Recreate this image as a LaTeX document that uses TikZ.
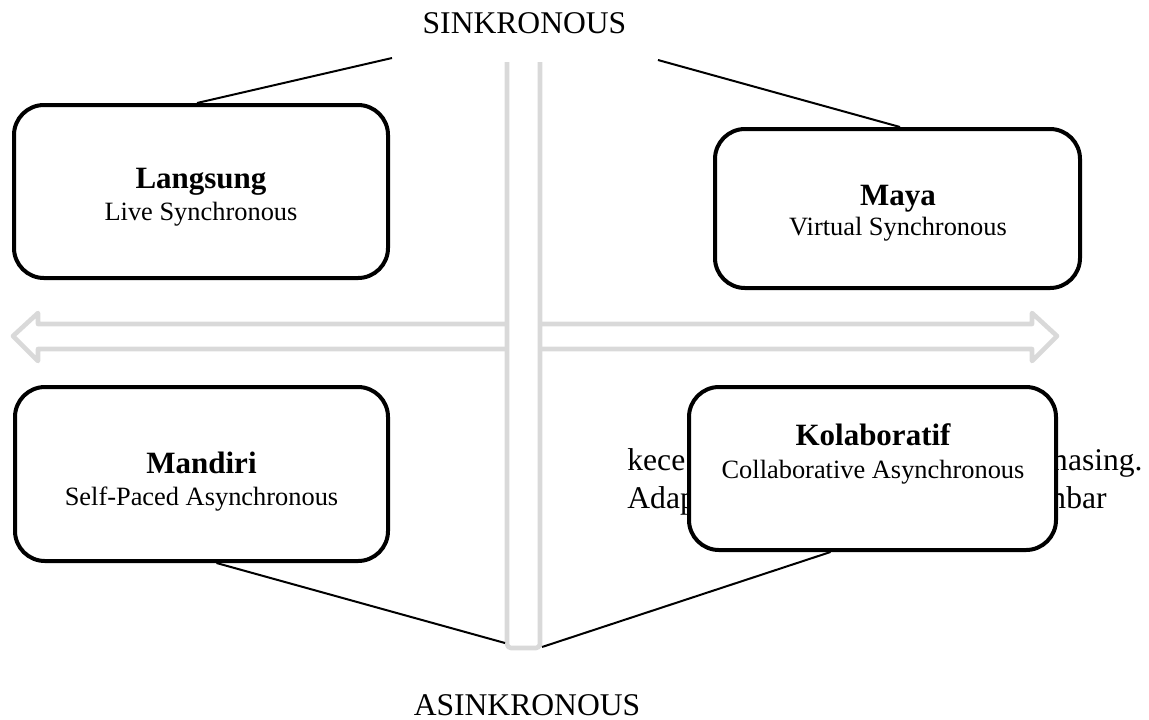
\documentclass[tikz,border=0pt]{standalone}
\usepackage{fontspec}
\setmainfont{Liberation Serif}
\definecolor{barGray}{HTML}{D9D9D9}
\begin{document}
\begin{tikzpicture}[x=0.5pt,y=-0.5pt,
  box/.style={draw=black, line width=2pt, fill=white, rounded corners=15pt, rectangle, inner sep=0pt},
  title/.style={anchor=base, inner sep=0pt, font=\fontsize{15.5}{18}\selectfont\bfseries},
  sub/.style={anchor=base, inner sep=0pt, font=\fontsize{13.2}{15}\selectfont},
  big/.style={anchor=base, inner sep=0pt, font=\fontsize{15.8}{19}\selectfont},
  conn/.style={draw=black, line width=1pt},
  grayline/.style={draw=barGray, line width=2.3pt, line join=round}]
\useasboundingbox (0,0) rectangle (1149,719);

% fragments of the page text behind the Kolaboratif box
\node[big, anchor=base west] (bg1a) at (627,470) {kece};
\node[big, anchor=base east] (bg1b) at (1143,470) {masing.};
\node[big, anchor=base west] (bg2a) at (627,508) {Adap};
\node[big, anchor=base east] (bg2b) at (1107,508) {mbar};

% horizontal double arrow
\draw[grayline] (13,336) -- (38,313) -- (38,324) -- (1032,324) -- (1032,313) -- (1057,336)
  -- (1032,361) -- (1032,349) -- (38,349) -- (38,361) -- cycle;

% vertical bar
\filldraw[grayline, fill=white, rounded corners=2pt] (507,62) -- (507,648) -- (540,648) -- (540,62);

% axis labels
\node[big] (sink) at (524.5,33) {SINKRONOUS};
\node[big] (asink) at (527,715) {ASINKRONOUS};

\coordinate (s1) at (392,58);
\coordinate (s2) at (658,60);
\coordinate (a1) at (505,643);
\coordinate (a2) at (542,647);

% boxes
\node[box, minimum width=187pt, minimum height=86.5pt] (lang) at (201,191.5) {};
\node[box, minimum width=182.5pt, minimum height=79.5pt] (maya) at (897.5,208.5) {};
\node[box, minimum width=186.5pt, minimum height=87pt] (mand) at (201.5,474) {};
\node[box, minimum width=183.5pt, minimum height=81.5pt] (kolab) at (872.5,468.5) {};

% connectors
\draw[conn] ([xshift=-2pt]lang.north) -- (s1);
\draw[conn] ([xshift=1.25pt]maya.north) -- (s2);
\draw[conn] ([xshift=7.5pt]mand.south) -- (a1);
\draw[conn] ([xshift=-21pt]kolab.south) -- (a2);

% box texts
\node[title] (langT) at (201,188) {Langsung};
\node[sub] (langS) at (201,220) {Live Synchronous};
\node[title] (mayaT) at (898,205) {Maya};
\node[sub] (mayaS) at (898,235) {Virtual Synchronous};
\node[title] (mandT) at (201.5,473) {Mandiri};
\node[sub] (mandS) at (201.5,505) {Self-Paced Asynchronous};
\node[title] (kolabT) at (873,445) {Kolaboratif};
\node[sub] (kolabS) at (873,478) {Collaborative Asynchronous};
\end{tikzpicture}
\end{document}
